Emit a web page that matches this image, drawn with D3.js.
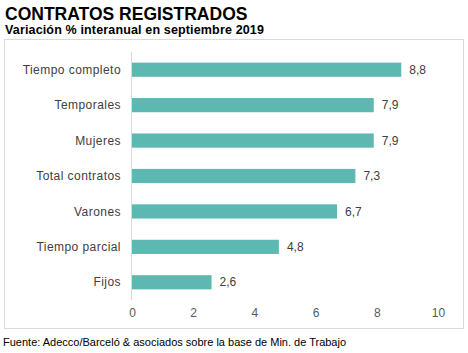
<!DOCTYPE html>
<html>
<head>
<meta charset="utf-8">
<script src="https://cdn.jsdelivr.net/npm/d3@7"></script>
<style>
  body { margin: 0; background: #fff; }
  svg { display: block; font-family: Arial, "Liberation Sans", sans-serif; }
</style>
</head>
<body>
<div id="chart"></div>
<script>
// datos
var categorias = ["Tiempo completo", "Temporales", "Mujeres", "Total contratos", "Varones", "Tiempo parcial", "Fijos"];
var valores = [8.8, 7.9, 7.9, 7.3, 6.7, 4.8, 2.6];
var ticks = [0, 2, 4, 6, 8, 10];

var w = 468, h = 353;
var svg = d3.select("#chart").append("svg").attr("width", w).attr("height", h);

// titulo
svg.append("text").attr("x", 5).attr("y", 20).text("CONTRATOS REGISTRADOS")
    .attr("font-size", 17.5).attr("font-weight", "bold").attr("fill", "#000");
svg.append("text").attr("x", 5).attr("y", 34).text("Variación % interanual en septiembre 2019")
    .attr("font-size", 12.5).attr("font-weight", "bold").attr("fill", "#000")
    .attr("letter-spacing", 0.15);

// marco
svg.append("rect").attr("x", 4.5).attr("y", 39.5).attr("width", 459).attr("height", 289)
    .attr("fill", "none").attr("stroke", "#d9d9d9").attr("stroke-width", 1);

var x = d3.scaleLinear().domain([0, 10]).range([132, 438]);
var y = d3.scaleBand().domain(categorias).range([52, 300]).paddingInner(0.6).paddingOuter(0.3);

// barras
svg.selectAll(".bar").data(valores).enter().append("rect")
    .attr("x", x(0))
    .attr("y", function (d, i) { return y(categorias[i]); })
    .attr("width", function (d) { return x(d) - x(0); })
    .attr("height", y.bandwidth())
    .attr("fill", "#5cb8b1");

// eje vertical
svg.append("line").attr("x1", x(0) - 0.5).attr("x2", x(0) - 0.5).attr("y1", 52).attr("y2", 300)
    .attr("stroke", "#d9d9d9").attr("stroke-width", 1);

// etiquetas categorias
svg.selectAll(".cat").data(categorias).enter().append("text")
    .attr("x", 121)
    .attr("y", function (d) { return y(d) + y.bandwidth() / 2; })
    .attr("dy", "0.35em")
    .attr("text-anchor", "end")
    .attr("font-size", 12).attr("fill", "#404040")
    .attr("letter-spacing", 0.45)
    .text(function (d) { return d; });

// valores
svg.selectAll(".val").data(valores).enter().append("text")
    .attr("x", function (d) { return x(d) + 8; })
    .attr("y", function (d, i) { return y(categorias[i]) + y.bandwidth() / 2; })
    .attr("dy", "0.35em")
    .attr("font-size", 12).attr("fill", "#404040")
    .text(function (d) { return d.toFixed(1).replace(".", ","); });

// eje x
var xAxis = svg.append("g").attr("transform", "translate(0,313)")
    .call(d3.axisBottom(x).tickValues(ticks).tickSize(0).tickPadding(0));
xAxis.select(".domain").remove();
xAxis.selectAll("text").attr("font-size", 12).attr("fill", "#595959")
    .attr("font-family", "Arial, 'Liberation Sans', sans-serif").attr("dy", "0.35em");

// fuente
svg.append("text").attr("x", 3).attr("y", 346)
    .text("Fuente: Adecco/Barceló & asociados sobre la base de Min. de Trabajo")
    .attr("font-size", 11).attr("fill", "#000");
</script>
</body>
</html>
